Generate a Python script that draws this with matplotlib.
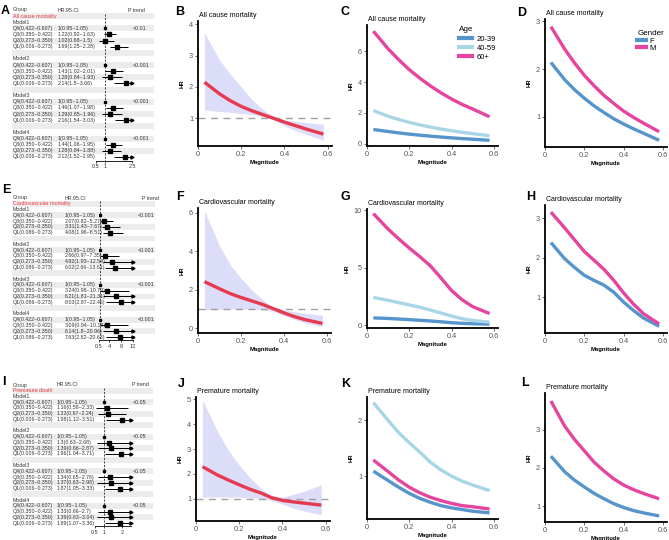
import matplotlib
matplotlib.use("Agg")
import matplotlib.pyplot as plt
from matplotlib.lines import Line2D

plt.rcParams["font.family"] = ["Liberation Sans", "DejaVu Sans"]

W, H = 669, 540
fig = plt.figure(figsize=(W / 100, H / 100), dpi=100)

# ---------------- data ----------------
models = ["Model1", "Model2", "Model3", "Model4"]
q_all = ["Q4(0.422~0.607)", "Q3(0.350~0.422)", "Q2(0.273~0.350)", "Q1(0.006~0.273)"]
q_cvd = ["Q4(0.422~0.607)", "Q3(0.350~0.422)", "Q2(0.273~0.350)", "Q1(0.086~0.273)"]

all_hr = [[1, 1.22, 1.02, 1.69], [1, 1.43, 1.28, 2.14], [1, 1.46, 1.29, 2.16], [1, 1.44, 1.28, 2.12]]
all_lo = [[0.95, 0.92, 0.68, 1.25], [0.95, 1.02, 0.84, 1.5], [0.95, 1.07, 0.85, 1.54], [0.95, 1.06, 0.84, 1.52]]
all_hi = [[1.05, 1.63, 1.5, 2.28], [1.05, 2.01, 1.93, 3.06], [1.05, 1.98, 1.96, 3.03], [1.05, 1.95, 1.88, 2.95]]
all_p = ["<0.01", "<0.001", "<0.001", "<0.001"]

cvd_hr = [[1, 2.07, 3.31, 4.08], [1, 2.66, 4.92, 6.02], [1, 3.24, 6.21, 8.03], [1, 3.09, 6.14, 7.63]]
cvd_lo = [[0.95, 0.82, 1.43, 1.96], [0.95, 0.97, 1.93, 2.66], [0.95, 0.98, 1.81, 2.87], [0.95, 0.94, 1.8, 2.82]]
cvd_hi = [[1.05, 5.27, 7.67, 8.51], [1.05, 7.35, 12.54, 13.61], [1.05, 10.79, 21.31, 22.46], [1.05, 10.18, 20.96, 20.63]]
cvd_p = ["<0.001", "<0.001", "<0.001", "<0.001"]

pre_hr = [[1, 1.16, 1.22, 1.98], [1, 1.3, 1.39, 1.96], [1, 1.34, 1.37, 1.87], [1, 1.33, 1.39, 1.89]]
pre_lo = [[0.95, 0.58, 0.67, 1.12], [0.95, 0.63, 0.66, 1.04], [0.95, 0.65, 0.63, 1.05], [0.95, 0.66, 0.63, 1.07]]
pre_hi = [[1.05, 2.33, 2.24, 3.51], [1.05, 2.68, 2.87, 3.71], [1.05, 2.76, 2.98, 3.33], [1.05, 2.7, 3.04, 3.36]]
pre_p = ["<0.05", "<0.05", "<0.05", "<0.05"]

mag = [0.03, 0.1, 0.15, 0.2, 0.25, 0.3, 0.35, 0.4, 0.45, 0.5, 0.58]

b_hr = [2.15, 1.78, 1.56, 1.38, 1.24, 1.12, 1.0, 0.88, 0.77, 0.66, 0.5]
b_up = [3.72, 2.85, 2.4, 2.0, 1.6, 1.27, 1.06, 0.95, 0.9, 0.86, 0.82]
b_lo = [1.27, 1.22, 1.19, 1.16, 1.12, 1.05, 0.97, 0.76, 0.62, 0.49, 0.31]

c_2039 = [0.92, 0.79, 0.7, 0.62, 0.55, 0.49, 0.43, 0.38, 0.33, 0.29, 0.22]
c_4059 = [2.15, 1.78, 1.57, 1.38, 1.22, 1.08, 0.95, 0.84, 0.74, 0.65, 0.52]
c_60 = [7.3, 6.15, 5.45, 4.8, 4.25, 3.75, 3.3, 2.9, 2.55, 2.25, 1.75]

d_f = [2.14, 1.78, 1.57, 1.39, 1.23, 1.09, 0.96, 0.85, 0.75, 0.66, 0.51]
d_m = [2.89, 2.42, 2.13, 1.87, 1.65, 1.45, 1.28, 1.12, 0.99, 0.87, 0.69]

f_hr = [2.42, 2.05, 1.8, 1.6, 1.42, 1.24, 1.02, 0.8, 0.6, 0.44, 0.25]
f_up = [6.1, 4.3, 3.3, 2.6, 2.0, 1.5, 1.08, 0.95, 0.85, 0.77, 0.68]
f_lo = [0.97, 0.99, 1.0, 1.0, 0.99, 0.96, 0.88, 0.66, 0.45, 0.27, 0.08]

g_2039 = [0.62, 0.57, 0.52, 0.47, 0.41, 0.35, 0.28, 0.2, 0.15, 0.11, 0.08]
g_4059 = [2.4, 2.15, 1.95, 1.75, 1.55, 1.3, 1.05, 0.78, 0.55, 0.4, 0.25]
g_60 = [9.7, 8.35, 7.5, 6.7, 5.95, 5.15, 4.1, 3.0, 2.2, 1.6, 1.0]

h_f = [2.38, 1.97, 1.75, 1.55, 1.42, 1.3, 1.12, 0.87, 0.66, 0.47, 0.26]
h_m = [3.15, 2.75, 2.45, 2.15, 1.93, 1.7, 1.42, 1.1, 0.82, 0.58, 0.32]

j_hr = [2.29, 1.95, 1.75, 1.56, 1.38, 1.23, 1.04, 0.93, 0.87, 0.82, 0.74]
j_up = [4.99, 3.7, 2.95, 2.35, 1.85, 1.42, 1.1, 1.06, 1.17, 1.3, 1.56]
j_lo = [1.07, 1.07, 1.07, 1.06, 1.04, 1.0, 0.93, 0.78, 0.62, 0.5, 0.35]

k_2039 = [1.09, 0.92, 0.8, 0.69, 0.6, 0.53, 0.47, 0.43, 0.4, 0.37, 0.34]
k_4059 = [2.32, 2.0, 1.78, 1.6, 1.43, 1.25, 1.11, 1.0, 0.91, 0.84, 0.74]
k_60 = [1.29, 1.08, 0.93, 0.8, 0.7, 0.62, 0.56, 0.51, 0.47, 0.45, 0.41]

l_f = [2.31, 1.9, 1.68, 1.5, 1.33, 1.19, 1.06, 0.96, 0.88, 0.82, 0.74]
l_m = [3.76, 3.1, 2.75, 2.45, 2.15, 1.92, 1.71, 1.55, 1.43, 1.33, 1.19]

# ---------------- styles ----------------
RED = "#E63A50"
BAND = "#DCDDF8"
BLUE = "#5595CC"
LBLUE = "#A9D6E6"
PINK = "#E5449F"
TXT = "#333333"


def px_axes(x0, y0, x1, y1):
    return fig.add_axes([x0 / W, 1 - y1 / H, (x1 - x0) / W, (y1 - y0) / H])


def letter(x, y, s):
    fig.text(x / W, 1 - y / H, s, fontsize=9, fontweight="bold", ha="center", va="center")


def forest(y_head, y_last, disease, qlabels, hr, lo, hi, pvals,
           hr_x, p_head_x, p_x, fx0, fx1, stripe_end, xlim, xticks):
    r = (y_last - y_head) / 24
    top, bot = y_head - 0.5 * r, y_last + 0.6 * r
    ax = px_axes(0, top, 169, bot)
    ax.set_xlim(0, 169)
    ax.set_ylim(24.6, -0.5)
    ax.axis("off")
    for k in range(1, 25, 2):
        ax.axhspan(k - 0.5, k + 0.5, xmin=12 / 169, xmax=stripe_end / 169,
                   color="#ECECEC", lw=0, zorder=0)
    fs = 3.8
    ax.text(13, 0, "Group", fontsize=fs, va="center", color=TXT)
    ax.text(hr_x, 0, "HR.95.CI", fontsize=fs, va="center", color=TXT)
    ax.text(p_head_x, 0, "P trend", fontsize=fs, va="center", color=TXT)
    ax.text(13, 1, disease, fontsize=fs, va="center", color="#E8383D")

    fa = px_axes(fx0, top, fx1, bot)
    fa.set_xlim(xlim)
    fa.set_ylim(24.6, -0.5)
    fa.patch.set_alpha(0)
    for s in ["top", "right", "left"]:
        fa.spines[s].set_visible(False)
    fa.spines["bottom"].set_linewidth(0.6)
    fa.set_yticks([])
    fa.set_xticks(xticks)
    fa.set_xticklabels([f"{t:g}" for t in xticks], fontsize=4, color=TXT)
    fa.tick_params(axis="x", length=1.5, width=0.5, pad=0.8)
    fa.vlines(1, 0.6, 24.6, colors="black", linestyles=(0, (3, 2)), lw=0.5)

    for m in range(4):
        base = 2 + 6 * m
        ax.text(13, base, models[m], fontsize=fs, va="center", color=TXT)
        ax.text(p_x, base + 1, pvals[m], fontsize=fs, va="center", color=TXT)
        for q in range(4):
            row = base + 1 + q
            h, l, u = hr[m][q], lo[m][q], hi[m][q]
            ax.text(13, row, qlabels[q], fontsize=fs, va="center", color=TXT)
            ax.text(hr_x, row, f"{h:g}({l:g}~{u:g})", fontsize=fs, va="center", color=TXT)
            fa.hlines(row, max(l, xlim[0]), min(u, xlim[1]), color="black", lw=0.7)
            if u > xlim[1]:
                fa.plot(xlim[1], row, marker=">", ms=2.2, color="black", clip_on=False)
            fa.plot(h, row, marker="s", ms=1.5 if q == 0 else 2.6, color="black", lw=0)


def curve_axes(x0, y0, x1, y1, ylim, yticks, title):
    ax = px_axes(x0, y0, x1, y1)
    ax.set_xlim(0, 0.62)
    ax.set_ylim(ylim)
    ax.patch.set_alpha(0)
    for s in ["top", "right"]:
        ax.spines[s].set_visible(False)
    for s in ["left", "bottom"]:
        ax.spines[s].set_linewidth(1.3)
    ax.set_xticks([0, 0.2, 0.4, 0.6])
    ax.set_xticklabels(["0", "0.2", "0.4", "0.6"])
    ax.set_yticks(yticks)
    ax.set_yticklabels([f"{t:g}" for t in yticks])
    ax.tick_params(labelsize=5.3, labelcolor="#555555", length=2, width=0.6,
                   color="#555555", pad=1.5)
    ax.set_xlabel("Magnitude", fontsize=4.3, fontweight="bold", labelpad=1.5)
    ax.set_ylabel("HR", fontsize=4.3, fontweight="bold", labelpad=3)
    ax.set_title(title, fontsize=5, loc="left", pad=3, x=0.01)
    return ax


def spline_panel(ax, hr, up, lo):
    ax.fill_between(mag, lo, up, color=BAND, lw=0, zorder=1)
    ax.axhline(1, color="#A0A0A0", ls=(0, (5, 4)), lw=1, zorder=2)
    ax.plot(mag, hr, color=RED, lw=2.4, zorder=3, solid_capstyle="butt")


# ---------------- forest plots ----------------
forest(10, 157, "All cause mortality", q_all, all_hr, all_lo, all_hi, all_p,
       58, 128, 133, 96, 132, 154, (0.5, 2.5), [0.5, 1, 2.5])
forest(198, 337, "Cardiovascular mortality", q_cvd, cvd_hr, cvd_lo, cvd_hi, cvd_p,
       65, 142, 138, 99, 133, 155, (0.5, 12), [0.5, 4, 8, 12])
forest(385, 523, "Premature death", q_all, pre_hr, pre_lo, pre_hi, pre_p,
       57, 132, 133, 95, 131, 153, (0.5, 2.5), [0.5, 1, 2])

# ---------------- spline panels ----------------
ax = curve_axes(198, 21, 332, 146, (0.12, 4.1), [1, 2, 3, 4], "All cause mortality")
spline_panel(ax, b_hr, b_up, b_lo)

ax = curve_axes(198, 208, 331, 333, (-0.25, 6.25), [0, 2, 4, 6], "Cardiovascular mortality")
spline_panel(ax, f_hr, f_up, f_lo)

ax = curve_axes(196, 397, 330, 521, (0.1, 5.1), [1, 2, 3, 4, 5], "Premature mortality")
spline_panel(ax, j_hr, j_up, j_lo)

# ---------------- age panels ----------------
age_sets = [
    ((367, 25, 498, 146), (-0.15, 7.7), [0, 2, 4, 6], "All cause mortality", c_2039, c_4059, c_60),
    ((367, 209, 498, 328), (-0.26, 10.1), [0, 5, 10], "Cardiovascular mortality", g_2039, g_4059, g_60),
    ((367, 397, 498, 519), (0.23, 2.42), [1, 2], "Premature mortality", k_2039, k_4059, k_60),
]
for box, yl, yt, ttl, a1, a2, a3 in age_sets:
    ax = curve_axes(*box, yl, yt, ttl)
    ax.plot(mag, a1, color=BLUE, lw=2.4, solid_capstyle="butt")
    ax.plot(mag, a2, color=LBLUE, lw=2.4, solid_capstyle="butt")
    ax.plot(mag, a3, color=PINK, lw=2.4, solid_capstyle="butt")

# ---------------- gender panels ----------------
sex_sets = [
    ((545, 19, 667, 147), (0.37, 3.05), [1, 2, 3], "All cause mortality", d_f, d_m),
    ((545, 205, 667, 333), (0.09, 3.33), [1, 2, 3], "Cardiovascular mortality", h_f, h_m),
    ((545, 393, 667, 522), (0.58, 3.97), [1, 2, 3], "Premature mortality", l_f, l_m),
]
for box, yl, yt, ttl, sf, sm in sex_sets:
    ax = curve_axes(*box, yl, yt, ttl)
    ax.plot(mag, sf, color=BLUE, lw=2.4, solid_capstyle="butt")
    ax.plot(mag, sm, color=PINK, lw=2.4, solid_capstyle="butt")

# ---------------- legends ----------------
age_handles = [Line2D([], [], color=c, lw=3) for c in (BLUE, LBLUE, PINK)]
fig.legend(age_handles, ["20-39", "40-59", "60+"], title="Age", loc="upper left",
           bbox_to_anchor=(454 / W, 1 - 21 / H), frameon=False, fontsize=5.5,
           title_fontsize=5.8, handlelength=1.6, handletextpad=0.7, labelspacing=0.25,
           alignment="left", borderpad=0.2)
sex_handles = [Line2D([], [], color=c, lw=3) for c in (BLUE, PINK)]
fig.legend(sex_handles, ["F", "M"], title="Gender", loc="upper left",
           bbox_to_anchor=(632 / W, 1 - 25 / H), frameon=False, fontsize=5.5,
           title_fontsize=5.8, handlelength=1.1, handletextpad=0.5, labelspacing=0.0,
           alignment="left", borderpad=0.2)

# ---------------- panel letters ----------------
for x, y, s in [(5, 11, "A"), (180, 12, "B"), (345, 12, "C"), (522, 13, "D"),
                (6, 190, "E"), (180, 197, "F"), (345, 197, "G"), (531, 197, "H"),
                (4, 382, "I"), (181, 384, "J"), (346, 384, "K"), (525, 383, "L")]:
    letter(x, y, s)

fig.savefig("out.png", dpi=100)
